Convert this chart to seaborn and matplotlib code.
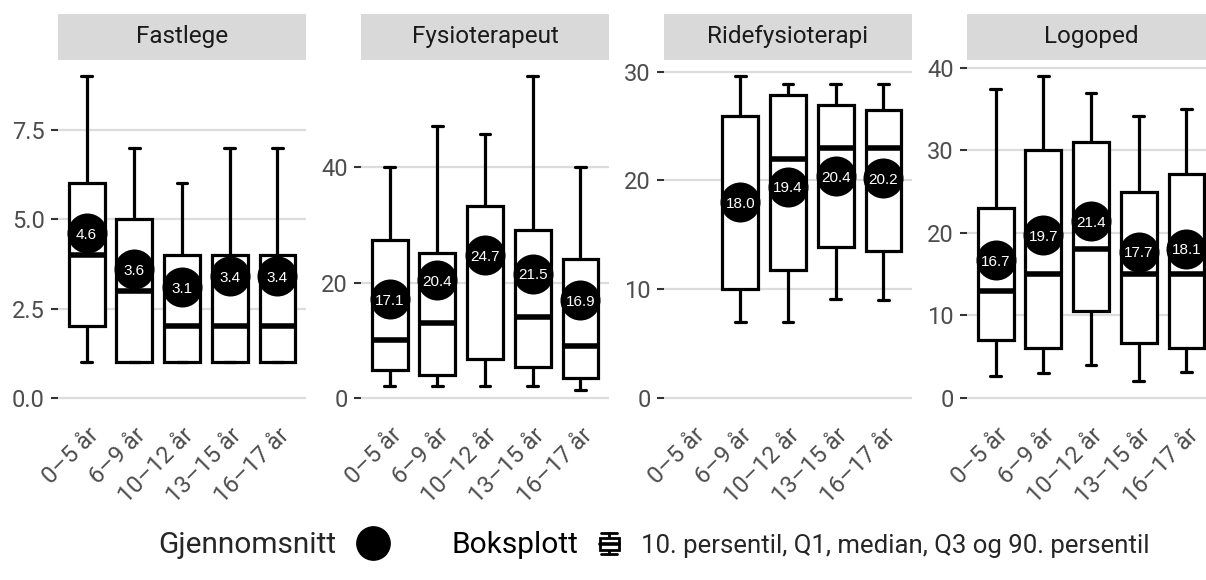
import numpy as np
import pandas as pd
import matplotlib
matplotlib.use("Agg")
import matplotlib.pyplot as plt
import seaborn as sns
from matplotlib.legend_handler import HandlerBase
from matplotlib.patches import Rectangle
from matplotlib.lines import Line2D

# ---------------- data ----------------
age_groups = ["0–5 år", "6–9 år", "10–12 år", "13–15 år", "16–17 år"]
services = ["Fastlege", "Fysioterapeut", "Ridefysioterapi", "Logoped"]

fastlege_p10 = [1, 1, 1, 1, 1]
fastlege_q1 = [2, 1, 1, 1, 1]
fastlege_median = [4, 3, 2, 2, 2]
fastlege_q3 = [6, 5, 4, 4, 4]
fastlege_p90 = [9, 7, 6, 7, 7]
fastlege_mean = [4.6, 3.6, 3.1, 3.4, 3.4]

fysio_p10 = [2.0, 2.0, 2.0, 2.0, 1.3]
fysio_q1 = [4.8, 4.0, 6.7, 5.4, 3.4]
fysio_median = [10, 13, 24, 14, 9]
fysio_q3 = [27.4, 25.1, 33.3, 29.1, 24.1]
fysio_p90 = [40, 47.2, 45.7, 55.8, 40]
fysio_mean = [17.1, 20.4, 24.7, 21.5, 16.9]

ride_p10 = [np.nan, 7.0, 7.0, 9.1, 9.0]
ride_q1 = [np.nan, 10.0, 11.8, 13.9, 13.5]
ride_median = [np.nan, 18, 22, 23, 23]
ride_q3 = [np.nan, 25.9, 27.9, 26.9, 26.5]
ride_p90 = [np.nan, 29.6, 28.9, 28.9, 28.9]
ride_mean = [np.nan, 18.0, 19.4, 20.4, 20.2]

logoped_p10 = [2.6, 3.0, 4.0, 2.0, 3.2]
logoped_q1 = [7.0, 6.0, 10.5, 6.6, 6.1]
logoped_median = [13, 15, 18, 15, 15]
logoped_q3 = [23.0, 30.0, 31.0, 25.0, 27.1]
logoped_p90 = [37.4, 39.0, 37.0, 34.2, 35.0]
logoped_mean = [16.7, 19.7, 21.4, 17.7, 18.1]

fastlege_yticks = [0, 2.5, 5.0, 7.5]
fysio_yticks = [0, 20, 40]
ride_yticks = [0, 10, 20, 30]
logoped_yticks = [0, 10, 20, 30, 40]

legend_mean_label = "Gjennomsnitt"
legend_box_title = "Boksplott"
legend_box_label = "10. persentil, Q1, median, Q3 og 90. persentil"

panels = [
    (services[0], fastlege_p10, fastlege_q1, fastlege_median, fastlege_q3, fastlege_p90, fastlege_mean, fastlege_yticks, "{:.1f}"),
    (services[1], fysio_p10, fysio_q1, fysio_median, fysio_q3, fysio_p90, fysio_mean, fysio_yticks, "{:.0f}"),
    (services[2], ride_p10, ride_q1, ride_median, ride_q3, ride_p90, ride_mean, ride_yticks, "{:.0f}"),
    (services[3], logoped_p10, logoped_q1, logoped_median, logoped_q3, logoped_p90, logoped_mean, logoped_yticks, "{:.0f}"),
]

# ---------------- style ----------------
sns.set_theme(style="white")
plt.rcParams["font.family"] = ["Roboto", "DejaVu Sans"]

W, H = 1206, 580
fig = plt.figure(figsize=(W / 100, H / 100), dpi=100)

panel_lefts = [58, 361, 664, 967]
panel_w = 248
panel_top, panel_bot = 60, 414
strip_top = 14

GRID = "#DCDCDC"
for (name, p10, q1, med, q3, p90, mean, yticks, fmt), left in zip(panels, panel_lefts):
    ax = fig.add_axes([left / W, 1 - panel_bot / H, panel_w / W, (panel_bot - panel_top) / H])
    ax.set_facecolor("white")
    pos = np.arange(len(age_groups))

    stats = []
    positions = []
    for i in range(len(age_groups)):
        if np.isnan(med[i]):
            continue
        stats.append(dict(med=med[i], q1=q1[i], q3=q3[i], whislo=p10[i], whishi=p90[i], fliers=[]))
        positions.append(pos[i])
    ax.bxp(stats, positions=positions, widths=0.75, capwidths=0.22, showfliers=False,
           patch_artist=True,
           boxprops=dict(facecolor="white", edgecolor="black", linewidth=2.3),
           medianprops=dict(color="black", linewidth=4.0, solid_capstyle="butt"),
           whiskerprops=dict(color="black", linewidth=2.3),
           capprops=dict(color="black", linewidth=2.3),
           zorder=3)

    df = pd.DataFrame({"pos": pos, "mean": mean}).dropna()
    sns.scatterplot(data=df, x="pos", y="mean", ax=ax, s=830, color="black",
                    linewidth=0, legend=False, zorder=5)
    for x, m in zip(df["pos"], df["mean"]):
        ax.text(x, m, f"{m:.1f}", ha="center", va="center_baseline", color="white",
                fontsize=11, family=["Liberation Sans", "DejaVu Sans"], zorder=6)

    ymax = np.nanmax(p90)
    ax.set_ylim(-0.05 * ymax, 1.05 * ymax)
    ax.set_xlim(-0.6, len(age_groups) - 0.4)
    ax.set_yticks(yticks)
    ax.set_yticklabels([fmt.format(t) for t in yticks])
    ax.set_xticks(pos)
    ax.set_xticklabels(age_groups, rotation=45, ha="right", va="top", rotation_mode="anchor")
    ax.set_xlabel("")
    ax.set_ylabel("")
    for s in ax.spines.values():
        s.set_visible(False)
    ax.yaxis.grid(True, color=GRID, linewidth=1.6, zorder=0)
    ax.xaxis.grid(False)
    ax.set_axisbelow(True)
    ax.tick_params(axis="y", length=5, width=1.5, color="#333333", labelsize=17,
                   labelcolor="#4D4D4D", pad=4.5, left=True)
    ax.tick_params(axis="x", length=0, labelsize=17, labelcolor="#4D4D4D", pad=7)

    sax = fig.add_axes([left / W, 1 - panel_top / H, panel_w / W, (panel_top - strip_top) / H])
    sax.set_facecolor("#D9D9D9")
    sax.set_xticks([])
    sax.set_yticks([])
    for s in sax.spines.values():
        s.set_visible(False)
    sax.text(0.5, 0.5, name, ha="center", va="center", fontsize=17.5, color="#1A1A1A",
             transform=sax.transAxes)


# ---------------- legend ----------------
class BoxIconHandler(HandlerBase):
    def create_artists(self, legend, orig_handle, xdescent, ydescent, width, height, fontsize, trans):
        cx = -xdescent + width / 2
        cy = -ydescent + height / 2
        h = 21 * 0.72
        w = 19 * 0.72
        y0 = cy - h / 2
        lw = 2.0
        arts = [
            Line2D([cx, cx], [y0, y0 + h], color="black", lw=lw, transform=trans),
            Line2D([cx - w * 0.4, cx + w * 0.4], [y0, y0], color="black", lw=lw, transform=trans),
            Line2D([cx - w * 0.4, cx + w * 0.4], [y0 + h, y0 + h], color="black", lw=lw, transform=trans),
            Rectangle((cx - w / 2, y0 + 0.22 * h), w, 0.56 * h, facecolor="white", edgecolor="black",
                      lw=lw, transform=trans),
            Line2D([cx - w / 2, cx + w / 2], [cy, cy], color="black", lw=lw * 1.3, transform=trans),
        ]
        return arts


mean_handle = Line2D([], [], marker="o", linestyle="", color="black", markersize=24)
leg1 = fig.legend(handles=[mean_handle], labels=[legend_mean_label], markerfirst=False,
                  loc="center left", bbox_to_anchor=(158 / W, 1 - 545 / H), frameon=False,
                  fontsize=21.5, borderpad=0, borderaxespad=0, handletextpad=0.72, handlelength=1.0)

fig.text(451 / W, 1 - 545 / H, legend_box_title, ha="left", va="center", fontsize=21.5, color="black")

box_handle = Rectangle((0, 0), 1, 1)
leg2 = fig.legend(handles=[box_handle], labels=[legend_box_label],
                  handler_map={Rectangle: BoxIconHandler()},
                  loc="center left", bbox_to_anchor=(592.3 / W, 1 - 545 / H), frameon=False,
                  fontsize=18.5, borderpad=0, borderaxespad=0, handletextpad=0.58,
                  handlelength=1.3, handleheight=1.0)

fig.savefig("out.png", dpi=100, facecolor="white")
